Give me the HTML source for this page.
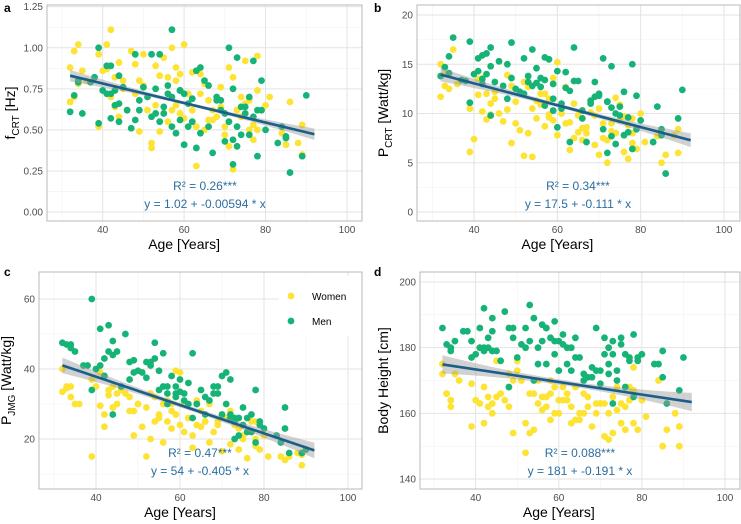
<!DOCTYPE html>
<html><head><meta charset="utf-8"><style>
html,body{margin:0;padding:0;background:#fff;}
svg{display:block;font-family:"Liberation Sans",sans-serif;}
</style></head><body>
<svg id="fig" width="741" height="524" viewBox="0 0 741 524"></svg>
<script>
const womenAge=[32,32,33,34,34,35,39,39,40,41,42,42,43,44,44,45,47,48,48,49,50,51,52,52,53,53,54,55,56,57,57,58,58,59,59,60,60,61,62,63,63,64,65,66,67,68,69,70,71,72,72,73,74,75,76,77,78,78,79,81,85,86,89,89,
33,36,41,43,45,46,49,50,54,55,56,58,61,62,64,65,66,67,69,70,71,73,74,75,76,77,78,80,84,88];
const menAge=[32,33,34,35,38,39,39,41,41,42,42,43,43,44,44,45,47,48,48,49,50,52,52,53,54,54,55,56,57,57,58,59,59,60,60,61,62,63,63,64,65,66,67,68,69,70,71,71,72,72,73,73,74,75,76,76,77,78,78,79,83,85,86,90,
34,37,40,42,44,46,49,51,53,55,56,57,59,61,62,64,66,68,69,70,72,73,74,75,77,79,80,84,85,89];
const fcrtWomen=[0.88,0.67,0.98,1.02,0.78,0.86,0.52,0.96,0.86,1.02,1.11,0.70,0.82,0.91,0.58,0.80,0.98,0.72,0.90,0.49,0.96,0.62,0.39,0.42,0.89,0.65,0.49,0.94,0.82,1.00,0.62,0.88,0.80,0.60,0.84,1.02,0.57,0.72,0.62,0.28,0.52,0.84,0.78,0.56,0.62,0.58,0.76,0.47,0.40,0.26,0.82,0.62,0.70,0.92,0.68,0.44,0.95,0.50,0.62,0.70,0.41,0.67,0.35,0.53,
0.70,0.80,0.87,0.64,0.75,0.62,0.80,0.77,0.83,0.60,0.55,0.65,0.66,0.85,0.72,0.50,0.68,0.56,0.64,0.52,0.88,0.62,0.58,0.66,0.50,0.53,0.74,0.65,0.48,0.42];
const fcrtMen=[0.61,0.71,0.80,0.60,0.82,1.00,0.54,0.89,0.72,0.57,0.89,0.65,0.74,0.83,0.55,0.76,0.51,0.96,0.56,0.68,0.76,0.96,0.58,0.75,0.96,0.55,0.60,0.72,1.11,0.52,0.48,0.74,0.56,0.41,0.72,0.52,0.69,0.86,0.39,0.88,0.80,0.52,0.36,0.68,0.62,0.43,1.00,0.55,0.75,0.29,0.94,0.40,0.47,0.64,0.70,0.47,0.92,0.34,0.62,0.80,0.42,0.45,0.24,0.71,
0.79,0.79,0.74,0.72,0.66,0.62,0.62,0.70,0.60,0.64,0.77,0.70,0.74,0.66,0.55,0.48,0.77,0.70,0.68,0.60,0.44,0.52,0.64,0.60,0.58,0.62,0.50,0.52,0.46,0.34];
const pcrtWomen=[15.0,11.7,12.8,12.5,14.0,16.5,6.1,10.5,7.4,11.9,10.2,13.6,9.4,11.0,9.9,12.2,9.2,13.9,10.4,7.0,11.2,8.3,13.2,5.7,12.7,8.0,5.6,9.5,10.9,12.0,8.7,11.5,9.9,9.3,13.6,15.2,7.8,10.0,12.7,6.3,9.1,7.5,8.1,7.3,8.6,10.1,6.8,5.8,9.0,5.0,7.3,8.2,11.6,9.3,6.1,5.4,8.0,7.0,6.4,7.1,5.0,5.8,6.0,8.4,
14.0,13.0,13.5,12.0,11.5,10.0,12.8,9.0,10.5,11.3,12.0,9.6,10.0,9.0,11.0,9.8,8.5,8.0,9.8,10.5,7.5,9.0,8.0,10.9,9.7,8.8,9.5,10.0,7.7,7.8];
const pcrtMen=[13.8,14.7,15.8,17.7,13.3,17.3,11.1,15.6,14.3,13.5,15.9,16.1,14.0,16.7,9.8,13.2,12.8,15.0,11.5,17.2,12.5,15.6,12.0,13.8,16.5,12.8,13.1,12.7,15.7,10.8,15.5,11.5,10.3,14.3,8.6,10.5,14.2,12.3,7.1,16.7,13.3,9.5,7.1,11.3,13.2,11.8,15.6,8.4,11.2,6.0,14.8,7.7,6.9,10.7,12.2,7.8,9.6,15.0,6.4,11.8,7.1,8.4,3.9,12.4,
14.1,13.4,14.0,13.0,14.8,15.3,13.6,12.2,13.2,14.6,13.6,13.4,13.0,11.0,12.6,13.3,10.3,11.0,11.7,12.0,11.2,10.6,10.0,9.8,8.1,8.4,9.3,10.7,7.8,9.5];
const pjmgWomen=[40,33.5,35,35,32,30,15,37,35,39,27,23.5,34,29,35,30,33,32,28,21,30,23.5,29,15,33,20,25,26,19,31,25,30,23,27,39.5,39,24,22,26,17.5,21,24,23.5,25,19,22,24,16.5,26,18.5,28,25,17,20,14.5,22,25,18,17,15,14,15,12.5,15.5,
34.5,30,29.5,32.5,33,34,28,30,32,27,30,28,30,26,31,28,25,30,25,27,26,24,23,21,22,25,20,21,15,16];
const pjmgMen=[47.5,47,47,45,41,60,34,51.5,41,43,38,52.5,45,48,27,45,50,37,42,42.5,39.5,42,37.5,41,47.5,43,39.5,44.5,33,30,38,32,35,37,33.5,31,36,44.5,26,30,34,27,31,33,35,38,39,30,37,26,26,20,21,29,22,26,27,34,19,25,21,29,16,17,
46,41,40,38,44,35,39,39,42,34,35,35,33,33,30,30,32,35,33,27,27,25,26,24,22,24,23,19,23,16];
const heightWomen=[172,175,166,162,164,172,156,169,164,180,157,168,165,163,160,176,164,162,172,154,176,170,157,148,154,166,155,163,161,165,162,158,170,160,168,164,160,168,166,157,162,158,158,160,165,156,163,163,153,152,160,154,161,157,155,164,174,157,155,159,150,155,156,150,
166,170,163,162,165,166,170,173,166,170,165,166,164,164,168,160,166,162,160,163,163,165,168,163,162,168,167,164,170,160];
const heightMen=[186,181,180,182,185,182,177,180,186,192,179,180,183,179,189,179,191,168,186,183,177,186,180,193,189,170,175,187,186,175,183,178,188,173,182,184,175,180,173,183,177,170,171,171,186,173,183,178,180,172,163,182,170,183,168,178,176,165,184,176,175,179,163,177,
179,185,178,180,185,176,186,181,182,180,182,186,182,181,180,177,172,174,173,169,175,178,173,181,177,177,178,175,171,167];
const intercepts=[1.02,17.5,54,181];
const slopes=[-0.00594,-0.111,-0.405,-0.191];
const ciHalf=[0.025,0.5,1.6,2.0];
const yTicks=[[0,0.25,0.5,0.75,1.0,1.25],[0,5,10,15,20],[20,40,60],[140,160,180,200]];
const yTickLabels=[["0.00","0.25","0.50","0.75","1.00","1.25"],["0","5","10","15","20"],["20","40","60"],["140","160","180","200"]];
const xTicks=[40,60,80,100];
const r2Labels=["R² = 0.26***","R² = 0.34***","R² = 0.47***","R² = 0.088***"];
const eqLabels=["y = 1.02 + -0.00594 * x","y = 17.5 + -0.111 * x","y = 54 + -0.405 * x","y = 181 + -0.191 * x"];

const NS="http://www.w3.org/2000/svg";
const svg=document.getElementById('fig');
function mk(tag,attrs,parent,text){const e=document.createElementNS(NS,tag);for(const k in attrs)e.setAttribute(k,attrs[k]);if(text!==undefined)e.textContent=text;(parent||svg).appendChild(e);return e;}

const panels=[
 {id:'a',L:47,R:362,T:5,B:221,x0:102.7,x1:347,yv0:0,yv1:1.25,yp0:212,yp1:6.7,ylab:['f','CRT',' [Hz]'],minorY:[0.125,0.375,0.625,0.875,1.125],w:fcrtWomen,m:fcrtMen,ann:[205,190,208],lx:4,ly:12,ytx:15},
 {id:'b',L:417,R:740,T:5,B:221,x0:474,x1:724,yv0:0,yv1:20,yp0:212,yp1:15,ylab:['P','CRT',' [Watt/kg]'],minorY:[2.5,7.5,12.5,17.5],w:pcrtWomen,m:pcrtMen,ann:[578,190,208],lx:374,ly:12,ytx:388},
 {id:'c',L:39,R:362,T:272,B:489,x0:96,x1:348,yv0:20,yv1:60,yp0:439,yp1:299,ylab:['P','JMG',' [Watt/kg]'],minorY:[10,30,50],w:pjmgWomen,m:pjmgMen,ann:[200,457,475],lx:4,ly:276,ytx:11},
 {id:'d',L:420,R:740,T:272,B:489,x0:475.7,x1:725,yv0:140,yv1:200,yp0:479,yp1:282,ylab:['Body Height [cm]'],minorY:[150,170,190],w:heightWomen,m:heightMen,ann:[580,457,475],lx:374,ly:276,ytx:388}
];
const minorX=[30,50,70,90];
panels.forEach((p,pi)=>{
 const X=v=>p.x0+(v-40)*(p.x1-p.x0)/60;
 const Y=v=>p.yp0+(v-p.yv0)*(p.yp1-p.yp0)/(p.yv1-p.yv0);
 const g=mk('g',{});
 
 
 const lt=mk('text',{x:p.lx,y:p.ly,'font-size':12,'font-weight':'bold',fill:'#000'},g,p.id);
 
 
 const cp=mk('clipPath',{id:'cp'+pi},g);mk('rect',{x:p.L,y:p.T,width:p.R-p.L,height:p.B-p.T},cp);
 const grid=mk('g',{'clip-path':'url(#cp'+pi+')'},g);
 
 
 minorX.forEach(v=>mk('line',{x1:X(v),x2:X(v),y1:p.T,y2:p.B,stroke:'#f2f2f2','stroke-width':0.6},grid));
 p.minorY.forEach(v=>mk('line',{x1:p.L,x2:p.R,y1:Y(v),y2:Y(v),stroke:'#f2f2f2','stroke-width':0.6},grid));
 xTicks.forEach(v=>mk('line',{x1:X(v),x2:X(v),y1:p.T,y2:p.B,stroke:'#e3e3e3','stroke-width':1},grid));
 yTicks[pi].forEach(v=>mk('line',{x1:p.L,x2:p.R,y1:Y(v),y2:Y(v),stroke:'#e3e3e3','stroke-width':1},grid));
 xTicks.forEach(v=>{const t=mk('text',{x:X(v),y:p.B+12,'font-size':10,fill:'#4d4d4d','text-anchor':'middle'},g,String(v));
  
  });
 yTicks[pi].forEach((v,i)=>{const t=mk('text',{x:p.L-4,y:Y(v)+3.5,'font-size':10,fill:'#4d4d4d','text-anchor':'end'},g,yTickLabels[pi][i]);
  
  });
 const xt=mk('text',{x:X(60),y:p.B+28,'font-size':14,fill:'#000','text-anchor':'middle'},g,'Age [Years]');
 
 
 const cy=(p.T+p.B)/2;
 const yt=mk('text',{x:p.ytx,y:cy,'font-size':14,fill:'#000','text-anchor':'middle',transform:'rotate(-90 '+p.ytx+' '+cy+')'},g);
 
 
 if(p.ylab.length===1){yt.textContent=p.ylab[0];}else{
  mk('tspan',{},yt,p.ylab[0]);mk('tspan',{'font-size':10,dy:4},yt,p.ylab[1]);mk('tspan',{dy:-4},yt,p.ylab[2]);}
 const pts=mk('g',{'clip-path':'url(#cp'+pi+')'},g);
 
 
 const nW=Math.min(womenAge.length,p.w.length);
 for(let i=0;i<nW;i++){const c=mk('circle',{cx:X(womenAge[i]),cy:Y(p.w[i]),r:3.4,fill:'#FDE333'},pts);
  
  }
 const nM=Math.min(menAge.length,p.m.length);
 for(let i=0;i<nM;i++){const c=mk('circle',{cx:X(menAge[i]),cy:Y(p.m[i]),r:3.4,fill:'#16B377'},pts);
  
  }
 const a=intercepts[pi],b=slopes[pi],h=ciHalf[pi];
 const f=x=>a+b*x;
 const wid=x=>h*(0.4+Math.pow((x-62)/30,2));
 let top='',bot='';
 for(let x=32;x<=92;x+=2){top+=(top?'L':'M')+X(x)+','+Y(f(x)+wid(x));}
 for(let x=92;x>=32;x-=2){bot+='L'+X(x)+','+Y(f(x)-wid(x));}
 const band=mk('path',{d:top+bot+'Z',fill:'#999','fill-opacity':0.45},g);
 
 
 const ln=mk('line',{x1:X(32),y1:Y(f(32)),x2:X(92),y2:Y(f(92)),stroke:'#1B5E8A','stroke-width':2.6},g);
 
 
 const r2=mk('text',{x:p.ann[0],y:p.ann[1],'font-size':12,fill:'#2A6EA0','text-anchor':'middle'},g,r2Labels[pi]);
 
 
 const eq=mk('text',{x:p.ann[0],y:p.ann[2],'font-size':12,fill:'#2A6EA0','text-anchor':'middle'},g,eqLabels[pi]);
 
 
 const fr=mk('rect',{x:p.L,y:p.T,width:p.R-p.L,height:p.B-p.T,fill:'none',stroke:'#b8b8b8','stroke-width':1},g);
 
 
 if(p.id==='c'){
  const lg=mk('g',{},g);
  
  
  mk('rect',{x:279,y:276,width:82,height:60,fill:'#fff'},lg);
  const e1=mk('g',{},lg);
  
  
  mk('circle',{cx:291,cy:296,r:3.4,fill:'#FDE333'},e1);
  mk('text',{x:312,y:300,'font-size':10,fill:'#000'},e1,'Women');
  const e2=mk('g',{},lg);
  
  
  mk('circle',{cx:291,cy:321,r:3.4,fill:'#16B377'},e2);
  mk('text',{x:312,y:325,'font-size':10,fill:'#000'},e2,'Men');
 }
});
</script>
</body></html>
